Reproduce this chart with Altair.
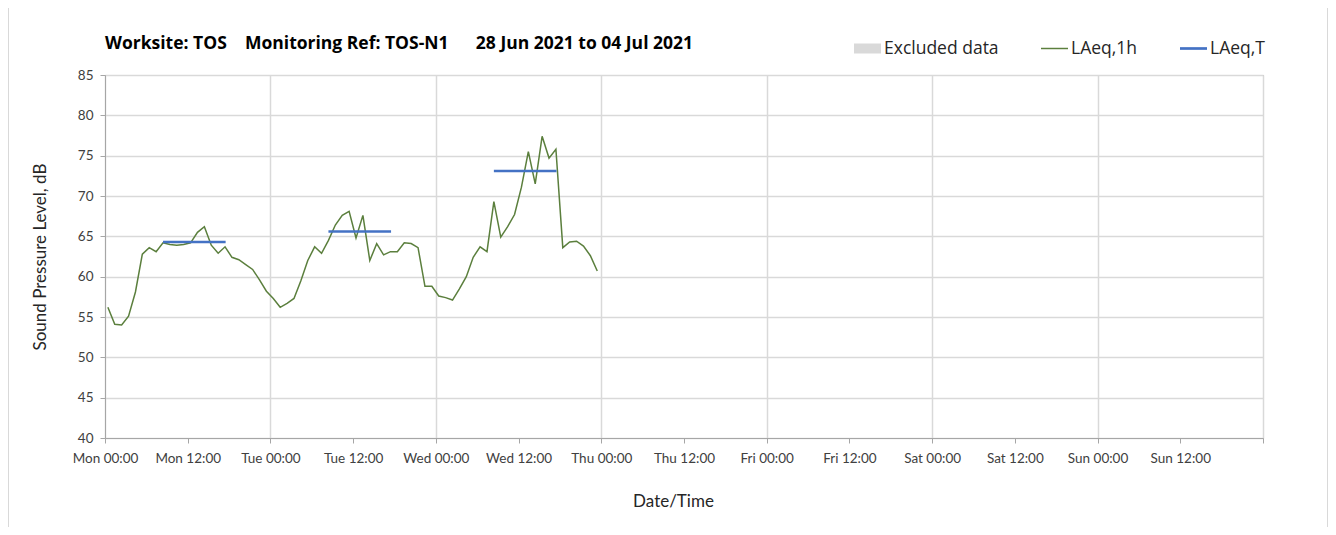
import altair as alt
import pandas as pd

# ---------------- data ----------------
series_names = ["Excluded data", "LAeq,1h", "LAeq,T"]
series_colors = ["#d9d9d9", "#5b7f3d", "#4472c4"]
# legend symbols: grey block, thin green line, thicker blue line
series_symbols = ["M-1,-0.37H1V0.37H-1Z", "M-1,-0.055H1V0.055H-1Z", "M-1,-0.1H1V0.1H-1Z"]

first_reading = "2021-06-28 00:25"
laeq_1h = [56.2, 54.1, 54.0, 55.1, 58.1, 62.8, 63.6, 63.1, 64.2, 64.0, 63.9, 64.0,
           64.2, 65.5, 66.2, 63.9, 62.9, 63.7, 62.4, 62.1, 61.5, 60.9, 59.6, 58.2,
           57.3, 56.2, 56.7, 57.3, 59.5, 62.0, 63.7, 62.9, 64.5, 66.4, 67.6, 68.1,
           64.8, 67.6, 62.0, 64.1, 62.7, 63.1, 63.1, 64.2, 64.1, 63.6, 58.8, 58.8,
           57.6, 57.4, 57.1, 58.5, 60.0, 62.4, 63.7, 63.1, 69.3, 64.9, 66.2, 67.7,
           71.1, 75.5, 71.5, 77.4, 74.7, 75.8, 63.6, 64.3, 64.4, 63.8, 62.6, 60.7]

laeqt_start = ["2021-06-28T08:25:00", "2021-06-29T08:25:00", "2021-06-30T08:25:00"]
laeqt_end = ["2021-06-28T17:30:00", "2021-06-29T17:30:00", "2021-06-30T17:30:00"]
laeqt_values = [64.3, 65.6, 73.1]

y_ticks = [40, 45, 50, 55, 60, 65, 70, 75, 80, 85]
# x ticks: (month, day) x hour, every 12 hours, Mon 28 Jun 00:00 .. Mon 05 Jul 00:00
x_tick_days = [(6, 28), (6, 29), (6, 30), (7, 1), (7, 2), (7, 3), (7, 4)]
x_tick_hours = [0, 12]

NB = "\u00a0"
title_text = ("Worksite: TOS" + NB * 3 + " Monitoring Ref: TOS-N1" + NB * 5 +
              " 28 Jun 2021 to 04 Jul 2021")

# ---------------- tables ----------------
times = pd.date_range(first_reading, periods=len(laeq_1h), freq="h")
line_df = pd.DataFrame({
    "time": [t.strftime("%Y-%m-%dT%H:%M:%S") for t in times],
    "value": laeq_1h,
    "series": "LAeq,1h",
})
rule_df = pd.DataFrame({
    "start": laeqt_start,
    "end": laeqt_end,
    "value": laeqt_values,
    "series": "LAeq,T",
})
title_df = pd.DataFrame({"label": [title_text]})

x_tick_values = [alt.DateTime(year=2021, month=m, date=d, hours=h)
                 for (m, d) in x_tick_days for h in x_tick_hours]
x_tick_values.append(alt.DateTime(year=2021, month=7, date=5, hours=0))

FONT = "Lato"
WIDE = "Open Sans"

x_scale = alt.Scale(domain=[alt.DateTime(year=2021, month=6, date=28, hours=0),
                            alt.DateTime(year=2021, month=7, date=5, hours=0)])
y_scale = alt.Scale(domain=[40, 85], nice=False, zero=False)
color_scale = alt.Scale(domain=series_names, range=series_colors)

x_axis = alt.Axis(
    title="Date/Time", values=x_tick_values,
    labelExpr="date(datum.value) == 5 ? '' : timeFormat(datum.value, '%a %H:%M')",
    labelAngle=0, labelFlush=False, labelOverlap=False, labelPadding=8,
    gridOpacity={"condition": {"test": "hours(datum.value) === 0", "value": 1}, "value": 0},
    titleX=568, titleY=63, titleBaseline="middle",
)
y_axis = alt.Axis(
    title="Sound Pressure Level, dB", values=y_ticks, labelPadding=7,
    titleX=-65, titleY=181.5, titleBaseline="middle", titleAlign="center", titleAngle=270,
)

legend = alt.Legend(
    orient="none", legendX=749, legendY=-40, direction="horizontal", title=None,
    symbolSize=729, labelFontSize=17.5, labelFont=WIDE, symbolStrokeWidth=0,
    labelColor="#262626", columnPadding=42, labelOffset=3, symbolOpacity=1,
)

# invisible layer that only carries the legend (fill + shape by series)
legend_layer = alt.Chart(line_df).mark_point(filled=True, opacity=0).encode(
    x=alt.X("time:T", scale=x_scale, axis=x_axis),
    y=alt.Y("value:Q", scale=y_scale, axis=y_axis),
    fill=alt.Fill("series:N", scale=color_scale, legend=legend),
    shape=alt.Shape("series:N", scale=alt.Scale(domain=series_names, range=series_symbols), legend=legend),
)

hourly = alt.Chart(line_df).mark_line(strokeWidth=1.5).encode(
    x=alt.X("time:T", scale=x_scale, axis=x_axis),
    y=alt.Y("value:Q", scale=y_scale, axis=y_axis),
    color=alt.Color("series:N", scale=color_scale, legend=None),
)

rules = alt.Chart(rule_df).mark_rule(strokeWidth=2.6).encode(
    x="start:T", x2="end:T", y="value:Q",
    color=alt.Color("series:N", scale=color_scale, legend=None),
)

heading = alt.Chart(title_df).mark_text(
    align="left", baseline="alphabetic", font=WIDE, fontSize=17.5, fontWeight="bold", color="#000000"
).encode(x=alt.value(0), y=alt.value(-26), text="label:N")

# light grey outer frame of the chart area (left and right edges)
frame_left = alt.Chart(title_df).mark_rule(color="#d9d9d9", strokeWidth=1).encode(
    x=alt.value(-96.5), y=alt.value(-67), y2=alt.value(452))
frame_right = alt.Chart(title_df).mark_rule(color="#d9d9d9", strokeWidth=1).encode(
    x=alt.value(1222.5), y=alt.value(-67), y2=alt.value(452))

chart = alt.layer(frame_left, frame_right, legend_layer, hourly, rules, heading).properties(
    width=1158, height=363,
    autosize=alt.AutoSizeParams(type="none"),
    padding={"left": 97, "top": 67, "right": 65, "bottom": 89},
    background="white",
).configure_view(
    stroke="#a6a6a6", strokeWidth=1
).configure_axis(
    labelFont=FONT, labelFontSize=13.5, labelColor="#404040",
    titleFont=FONT, titleFontSize=17, titleFontWeight="normal", titleColor="#262626",
    domainColor="#a6a6a6", tickColor="#a6a6a6", tickSize=5,
    gridColor="#d9d9d9", gridWidth=1.5,
)

chart.save("out.html", embed_options={"renderer": "svg", "actions": False})
